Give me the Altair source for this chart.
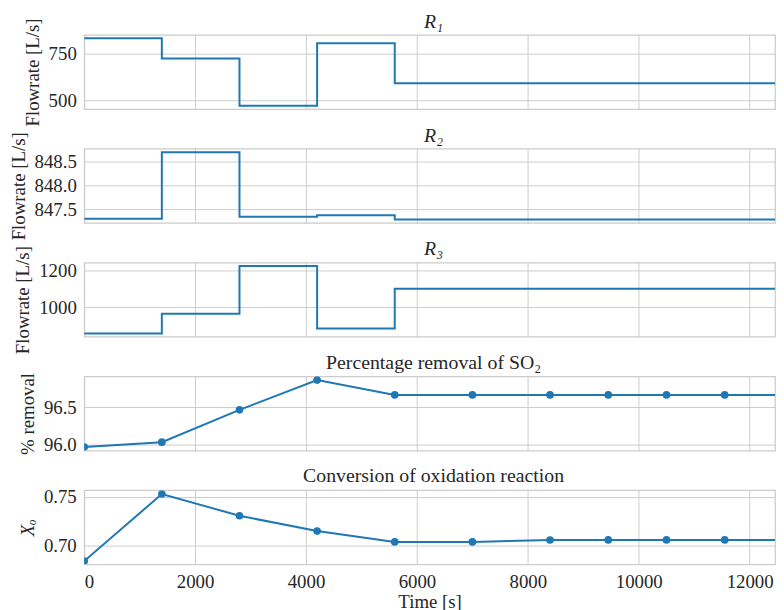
import altair as alt
import pandas as pd

# ---- data ----
step_time = [0, 1400, 2800, 4200, 5600, 12600]
r1_flow = [833, 725, 471, 806, 592, 592]
r2_flow = [847.307, 848.70, 847.35, 847.38, 847.29, 847.29]
r3_flow = [859, 966, 1225, 886, 1102, 1102]

sample_time = [0, 1400, 2800, 4200, 5600, 7000, 8400, 9450, 10500, 11550, 12600]
so2_removal = [95.964, 96.03, 96.465, 96.864, 96.665, 96.665, 96.665, 96.665, 96.665, 96.665, 96.665]
conversion = [0.6837, 0.7528, 0.7304, 0.7146, 0.7034, 0.7034, 0.7054, 0.7055, 0.7055, 0.7055, 0.7055]

x_ticks = [0, 2000, 4000, 6000, 8000, 10000, 12000]
x_domain = [0, 12457]  # visible part of the time axis (figure is cut at the right)

FONT = "Liberation Serif"
BLUE = "#1f77b4"
GRID = "#cccccc"
TXT = "#262626"
W, H = 698, 75

steps = pd.DataFrame({"t": step_time, "R1": r1_flow, "R2": r2_flow, "R3": r3_flow})
samples = pd.DataFrame({"t": sample_time, "rem": so2_removal, "conv": conversion})

AX = dict(labelFont=FONT, labelFontSize=19, labelColor=TXT, titleFont=FONT,
          titleFontSize=19, titleColor=TXT, titleFontWeight="normal",
          grid=True, gridColor=GRID, gridWidth=1, domain=False, ticks=False)


def x_enc(bottom=False):
    if bottom:
        ax = alt.Axis(values=x_ticks, format="d", title="Time [s]", labelPadding=8,
                      titlePadding=2, **AX)
    else:
        ax = alt.Axis(values=x_ticks, labels=False, title=None, **AX)
    return alt.X("t:Q", scale=alt.Scale(domain=x_domain, nice=False, zero=False), axis=ax)


def y_enc(field, domain, ticks, fmt, title, italic=False):
    ax = alt.Axis(values=ticks, format=fmt, title=title, labelPadding=8, titlePadding=6,
                  titleFontStyle="italic" if italic else "normal", **AX)
    return alt.Y(f"{field}:Q", scale=alt.Scale(domain=domain, nice=False, zero=False), axis=ax)


def ttl(text, dy, italic=False):
    return alt.Title(text, font=FONT, fontSize=20, color=TXT, fontWeight="normal",
                     fontStyle="italic" if italic else "normal", anchor="middle",
                     offset=6, dx=4, dy=dy)


def step_panel(field, domain, ticks, fmt, title):
    return alt.Chart(steps, title=ttl(title, 20, italic=True)).mark_line(
        interpolate="step-after", color=BLUE, strokeWidth=2, clip=True
    ).encode(
        x=x_enc(),
        y=y_enc(field, domain, ticks, fmt, "Flowrate [L/s]"),
    ).properties(width=W, height=H)


def marker_panel(field, domain, ticks, fmt, title, ytitle, dy, bottom=False, italic=False):
    base = alt.Chart(samples).encode(
        x=x_enc(bottom),
        y=y_enc(field, domain, ticks, fmt, ytitle, italic),
    )
    line = base.mark_line(color=BLUE, strokeWidth=2, clip=True)
    pts = base.mark_circle(color=BLUE, size=60, opacity=1, clip=True)
    return alt.layer(line, pts, title=ttl(title, dy)).properties(width=W, height=H)


p1 = step_panel("R1", [453, 851], [500, 750], "d", "R₁")
p2 = step_panel("R2", [847.22, 848.775], [847.5, 848.0, 848.5], ".1f", "R₂")
p3 = step_panel("R3", [841, 1244], [1000, 1200], "d", "R₃")
p4 = marker_panel("rem", [95.917, 96.915], [96.0, 96.5], ".1f",
                  "Percentage removal of SO₂", "% removal", 7)
p5 = marker_panel("conv", [0.6803, 0.7568], [0.70, 0.75], ".2f",
                  "Conversion of oxidation reaction", "Xₒ", 4, bottom=True, italic=True)

chart = alt.vconcat(p1, p2, p3, p4, p5, spacing=40, bounds="flush").properties(
    padding={"left": 0, "top": 0, "right": 0, "bottom": 0}
).configure(
    font=FONT
).configure_view(
    stroke=GRID, strokeWidth=1.25
)

chart.save("out.html", embed_options={"renderer": "svg", "actions": False})
